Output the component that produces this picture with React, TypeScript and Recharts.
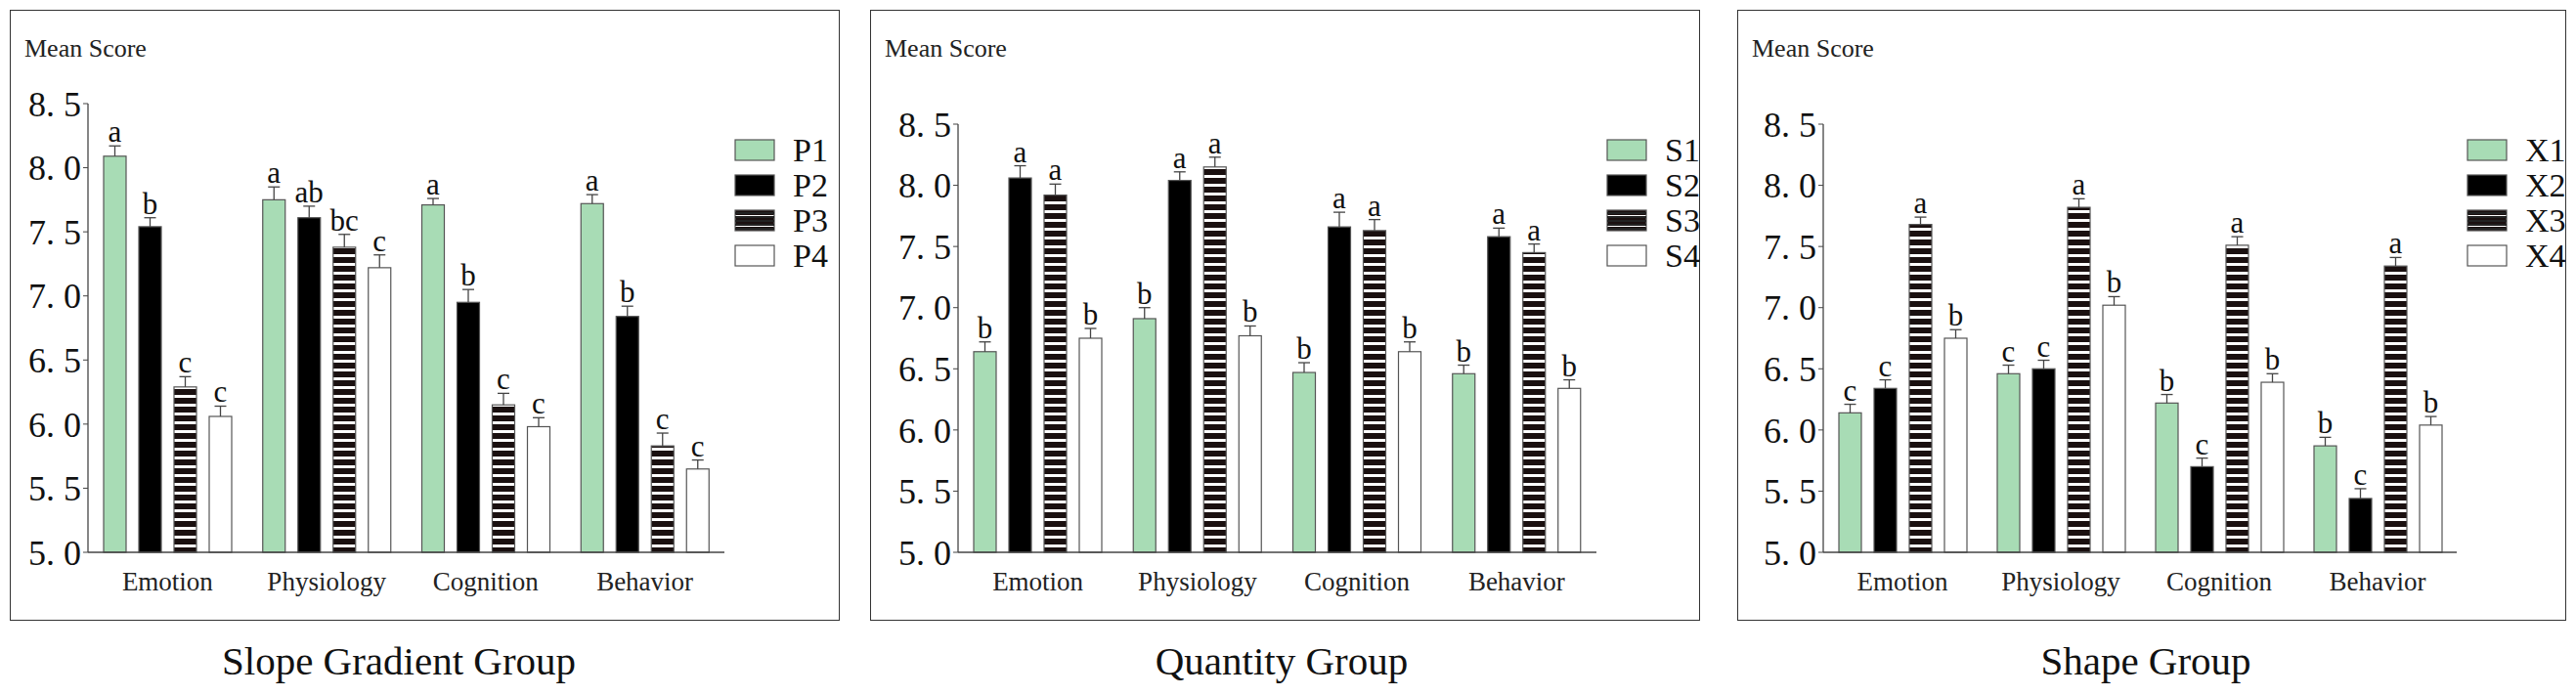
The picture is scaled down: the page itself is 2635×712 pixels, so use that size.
import React from "react";
import { Bar, BarChart, XAxis, YAxis } from "recharts";

const categories = ["Emotion", "Physiology", "Cognition", "Behavior"];
const ticks = [5.0, 5.5, 6.0, 6.5, 7.0, 7.5, 8.0, 8.5];

// Slope gradient group
const p1 = [8.09, 7.75, 7.71, 7.72];
const p2 = [7.54, 7.61, 6.95, 6.84];
const p3 = [6.29, 7.38, 6.15, 5.83];
const p4 = [6.06, 7.22, 5.98, 5.65];
const pErr = [
  [0.08, 0.1, 0.05, 0.07],
  [0.07, 0.09, 0.1, 0.08],
  [0.08, 0.1, 0.09, 0.1],
  [0.08, 0.1, 0.07, 0.07],
];
const pLetters = [
  ["a", "a", "a", "a"],
  ["b", "ab", "b", "b"],
  ["c", "bc", "c", "c"],
  ["c", "c", "c", "c"],
];

// Quantity group
const s1 = [6.64, 6.91, 6.47, 6.46];
const s2 = [8.06, 8.04, 7.66, 7.58];
const s3 = [7.92, 8.15, 7.63, 7.45];
const s4 = [6.75, 6.77, 6.64, 6.34];
const sErr = [
  [0.08, 0.09, 0.08, 0.07],
  [0.1, 0.07, 0.12, 0.07],
  [0.09, 0.08, 0.09, 0.07],
  [0.08, 0.08, 0.08, 0.07],
];
const sLetters = [
  ["b", "b", "b", "b"],
  ["a", "a", "a", "a"],
  ["a", "a", "a", "a"],
  ["b", "b", "b", "b"],
];

// Shape group
const x1 = [6.14, 6.46, 6.22, 5.87];
const x2 = [6.34, 6.5, 5.7, 5.44];
const x3 = [7.68, 7.82, 7.51, 7.34];
const x4 = [6.75, 7.02, 6.39, 6.04];
const xErr = [
  [0.07, 0.07, 0.07, 0.07],
  [0.07, 0.07, 0.07, 0.08],
  [0.06, 0.07, 0.07, 0.07],
  [0.07, 0.07, 0.07, 0.07],
];
const xLetters = [
  ["c", "c", "b", "b"],
  ["c", "c", "c", "c"],
  ["a", "a", "a", "a"],
  ["b", "b", "b", "b"],
];

const FILLS = ["#a8dcb5", "#000000", "url(#stripes)", "#ffffff"];
const SERIF = "'Liberation Serif', 'DejaVu Serif', serif";

function buildRows(series: number[][], errs: number[][], letters: string[][]) {
  return categories.map((c, i) => {
    const row: Record<string, any> = { name: c };
    series.forEach((s, k) => {
      row[`v${k}`] = s[i];
      row[`e${k}`] = errs[k][i];
      row[`l${k}`] = letters[k][i];
    });
    return row;
  });
}

function makeShape(k: number) {
  return (props: any) => {
    const { x, y, width, height, payload } = props;
    const v = payload[`v${k}`];
    const e = payload[`e${k}`];
    const per = height / (v - 5);
    const top = y - e * per;
    const cx = x + width / 2;
    return (
      <g>
        <rect x={x} y={y} width={width} height={height} fill={FILLS[k]} stroke="#555" strokeWidth={1.2} />
        <line x1={cx} x2={cx} y1={y} y2={top} stroke="#444" strokeWidth={1.3} />
        <line x1={cx - 6} x2={cx + 6} y1={top} y2={top} stroke="#444" strokeWidth={1.3} />
        <text x={cx} y={top - 4} textAnchor="middle" fontFamily={SERIF} fontSize={31} fill="#111">
          {payload[`l${k}`]}
        </text>
      </g>
    );
  };
}

interface PanelProps {
  left: number;
  width: number;
  plotLeft: number;
  plotRight: number;
  plotTop: number;
  names: string[];
  rows: Record<string, any>[];
  title: string;
  titleX: number;
}

function Panel({ left, width, plotLeft, plotRight, plotTop, names, rows, title, titleX }: PanelProps) {
  const boxTop = 10;
  const boxH = 625;
  const yAxisW = 76;
  const xAxisH = 50;
  const legendX = plotRight - left + 10;
  return (
    <>
      <div
        style={{
          position: "absolute",
          left,
          top: boxTop,
          width,
          height: boxH,
          border: "1.5px solid #333",
          boxSizing: "border-box",
          background: "#fff",
        }}
      >
        <div style={{ position: "absolute", left: 14, top: 24, fontFamily: SERIF, fontSize: 26, color: "#222" }}>
          Mean Score
        </div>
        <BarChart
          width={width}
          height={boxH}
          data={rows}
          barSize={23}
          barGap={13}
          margin={{
            top: plotTop - boxTop,
            left: plotLeft - left - yAxisW,
            right: width - (plotRight - left),
            bottom: boxH - (564 - boxTop) - xAxisH,
          }}
        >
          <defs>
            <pattern id="stripes" width="8" height="9" patternUnits="userSpaceOnUse">
              <rect width="8" height="9" fill="#fff" />
              <rect width="8" height="6" fill="#1a1010" />
            </pattern>
          </defs>
          <XAxis
            dataKey="name"
            height={xAxisH}
            tickLine={false}
            axisLine={{ stroke: "#444", strokeWidth: 1.3 }}
            tick={{ fontFamily: SERIF, fontSize: 27, fill: "#222" }}
            tickMargin={14}
          />
          <YAxis
            width={yAxisW}
            domain={[5, 8.5]}
            ticks={ticks}
            interval={0}
            tickSize={5}
            axisLine={{ stroke: "#444", strokeWidth: 1.3 }}
            tickLine={{ stroke: "#444" }}
            tick={{ fontFamily: SERIF, fontSize: 36, fill: "#111" }}
            tickFormatter={(t: number) => t.toFixed(1).replace(".", ". ")}
          />
          {[0, 1, 2, 3].map((k) => (
            <Bar key={k} dataKey={`v${k}`} shape={makeShape(k)} isAnimationActive={false} />
          ))}
        </BarChart>
        {names.map((n, k) => (
          <div key={n} style={{ position: "absolute", left: legendX, top: 127 + k * 36, height: 32, display: "flex", alignItems: "center" }}>
            <svg width={42} height={24}>
              <rect x={1} y={1} width={40} height={21} fill={FILLS[k]} stroke="#555" strokeWidth={1.2} />
              {k === 2 &&
                [3, 7, 11, 15, 19].map((yy) => <rect key={yy} x={1} y={yy} width={40} height={2} fill="#222" />)}
            </svg>
            <span style={{ fontFamily: SERIF, fontSize: 34, marginLeft: 18, color: "#111" }}>{n}</span>
          </div>
        ))}
      </div>
      <div
        style={{
          position: "absolute",
          left: titleX - 300,
          width: 600,
          top: 652,
          textAlign: "center",
          fontFamily: SERIF,
          fontSize: 41,
          color: "#111",
        }}
      >
        {title}
      </div>
    </>
  );
}

export default function App() {
  return (
    <div style={{ position: "absolute", left: 0, top: 0, width: 2635, height: 712, background: "#fff", overflow: "hidden" }}>
      <Panel
        left={10}
        width={849}
        plotLeft={89}
        plotRight={740}
        plotTop={105}
        names={["P1", "P2", "P3", "P4"]}
        rows={buildRows([p1, p2, p3, p4], pErr, pLetters)}
        title="Slope Gradient Group"
        titleX={408}
      />
      <Panel
        left={890}
        width={849}
        plotLeft={979}
        plotRight={1632}
        plotTop={126}
        names={["S1", "S2", "S3", "S4"]}
        rows={buildRows([s1, s2, s3, s4], sErr, sLetters)}
        title="Quantity Group"
        titleX={1311}
      />
      <Panel
        left={1777}
        width={848}
        plotLeft={1864}
        plotRight={2512}
        plotTop={126}
        names={["X1", "X2", "X3", "X4"]}
        rows={buildRows([x1, x2, x3, x4], xErr, xLetters)}
        title="Shape Group"
        titleX={2195}
      />
    </div>
  );
}
